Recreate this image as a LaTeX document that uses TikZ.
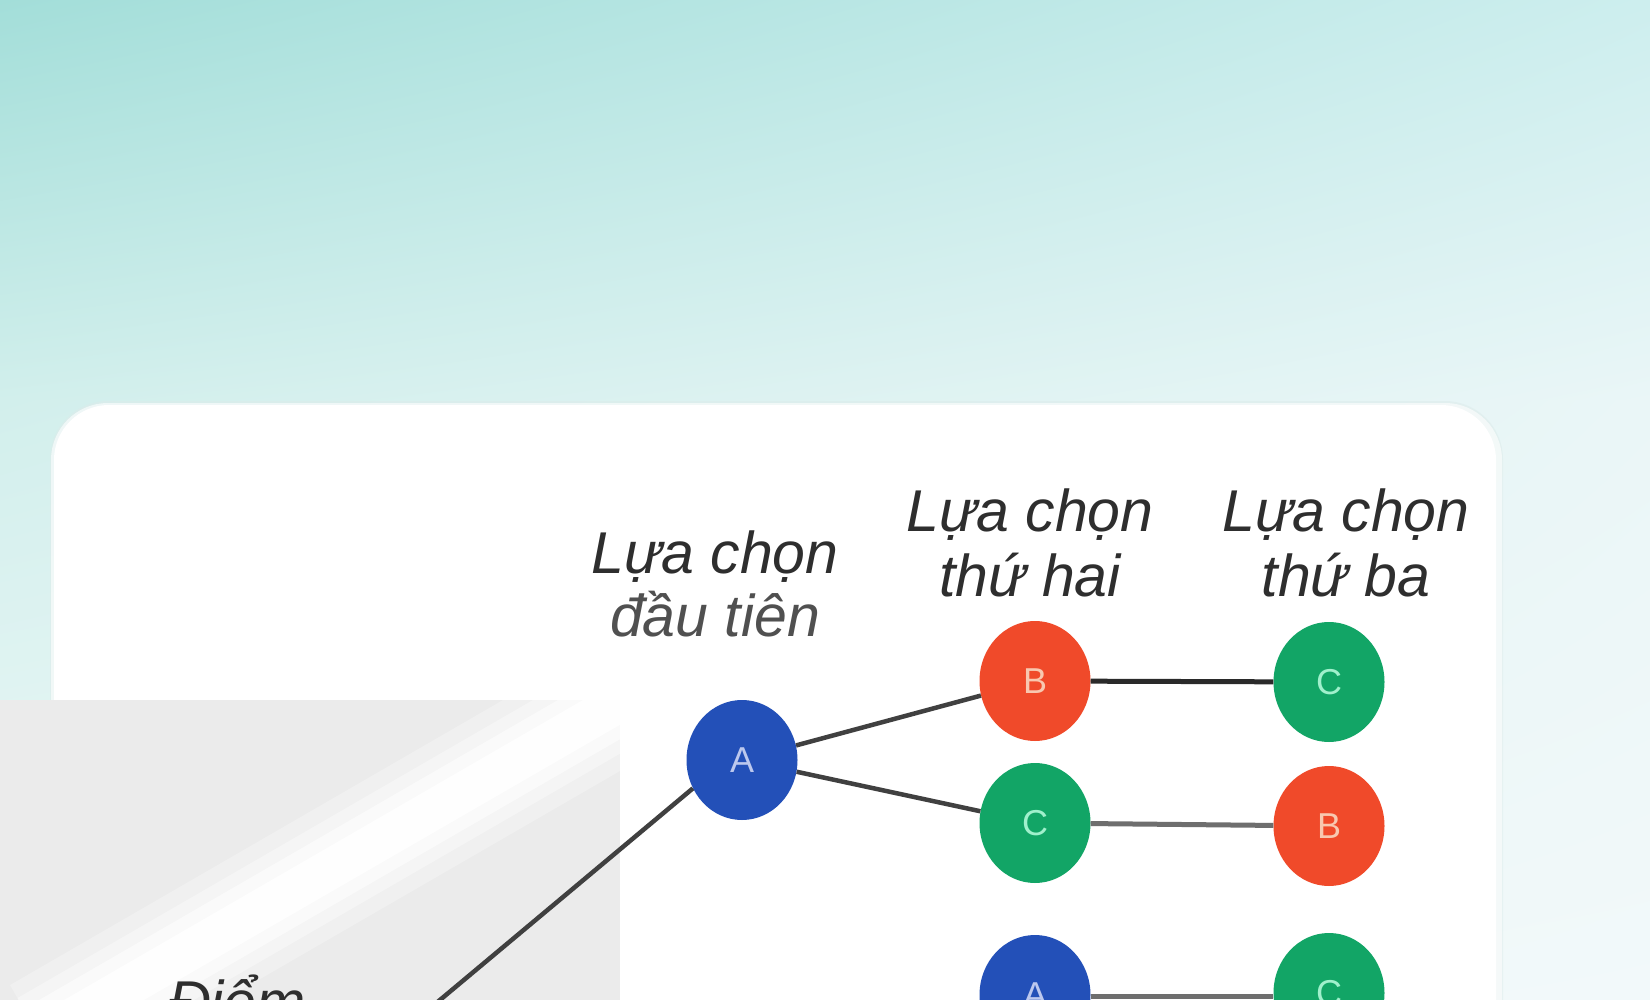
\documentclass[tikz,border=0pt]{standalone}
\usepackage{fontspec}
\setmainfont{Liberation Sans}
\usetikzlibrary{shapes.geometric,shadings}
\definecolor{bgTL}{HTML}{A3DED9}
\definecolor{bgTR}{HTML}{CDEEEE}
\definecolor{bgML}{HTML}{D2EFEC}
\definecolor{bgMR}{HTML}{EAF6F7}
\definecolor{bgBL}{HTML}{EEF8F8}
\definecolor{bgBR}{HTML}{F2F9FA}
\definecolor{panelgray}{HTML}{EBEBEB}
\definecolor{cardshadow}{HTML}{DCEBEA}
\definecolor{nodeblue}{HTML}{2350B8}
\definecolor{nodered}{HTML}{F04A2A}
\definecolor{nodegreen}{HTML}{12A566}
\definecolor{letblue}{HTML}{BCC8EE}
\definecolor{letred}{HTML}{F8C8B0}
\definecolor{letgreen}{HTML}{A0F0CC}
\definecolor{hdrtxt}{HTML}{2E2E2E}
\definecolor{hdrlight}{HTML}{505050}
\definecolor{linkdark}{HTML}{2A2A2A}
\definecolor{linkmid}{HTML}{404040}
\definecolor{linkgray}{HTML}{6E6E6E}
\tikzset{
  choice/.style={ellipse, minimum width=111pt, minimum height=120pt, inner sep=0pt,
    font=\fontsize{36}{36}\selectfont},
  blueN/.style={choice, fill=nodeblue, text=letblue},
  redN/.style={choice, fill=nodered, text=letred},
  greenN/.style={choice, fill=nodegreen, text=letgreen},
  hdr/.style={font=\fontsize{59}{64}\selectfont\itshape, text=hdrtxt, anchor=base, inner sep=0pt},
  link/.style={line width=4.5pt, draw=linkmid},
  linkA/.style={line width=5pt, draw=linkdark},
  linkB/.style={line width=5pt, draw=linkgray},
}
\begin{document}
\begin{tikzpicture}[x=1pt,y=-1pt]
\useasboundingbox (0,0) rectangle (1650,1000);
\clip (0,0) rectangle (1650,1000);
% background gradient
\shade[upper left=bgTL, upper right=bgTR, lower left=bgML, lower right=bgMR]
  (0,0) rectangle (1650,401);
\shade[upper left=bgML, upper right=bgMR, lower left=bgBL, lower right=bgBR]
  (0,400) rectangle (1650,1000);
% card with soft edge
\fill[cardshadow, opacity=0.5, rounded corners=58pt] (50,401) rectangle (1503,1100);
\fill[white, opacity=0.6, rounded corners=57pt] (51,403) rectangle (1502,1100);
\fill[white, rounded corners=55pt] (54,405) rectangle (1496,1100);
% gray panel with diagonal light band
\begin{scope}
  \clip (0,700) rectangle (620,1000);
  \fill[panelgray] (0,700) rectangle (620,1000);
  \foreach \w/\o in {120/0.25, 90/0.35, 65/0.55, 40/0.85}
    \draw[white, line width=\w pt, opacity=\o] (40,1037) -- (680,667);
\end{scope}
% headers
\node[hdr] (h1a) at (715,573) {Lựa chọn};
\node[hdr, text=hdrlight] (h1b) at (715,636) {đầu tiên};
\node[hdr] (h2a) at (1030,531) {Lựa chọn};
\node[hdr] (h2b) at (1030,596) {thứ hai};
\node[hdr] (h3a) at (1346,531) {Lựa chọn};
\node[hdr] (h3b) at (1346,596) {thứ ba};
\node[hdr, anchor=base west] (diem) at (168,1022) {Điểm};
% nodes
\node[blueN] (A1) at (742,760) {A};
\node[redN] (B2) at (1035,681) {B};
\node[greenN] (C2) at (1035,823) {C};
\node[greenN] (C3) at (1329,682) {C};
\node[redN] (B3) at (1329,826) {B};
\node[blueN] (A2) at (1035,995) {A};
\node[greenN] (C4) at (1329,993) {C};
\coordinate (root) at (428,1010);
% connectors
\draw[link] (A1.210) -- (root);
\draw[link] (A1) -- (B2);
\draw[link] (A1) -- (C2);
\draw[linkA] (B2) -- (C3);
\draw[linkB] (C2) -- (B3);
\draw[linkB] (A2.east |- 0,996) -- (C4.west |- 0,996);
\end{tikzpicture}
\end{document}
